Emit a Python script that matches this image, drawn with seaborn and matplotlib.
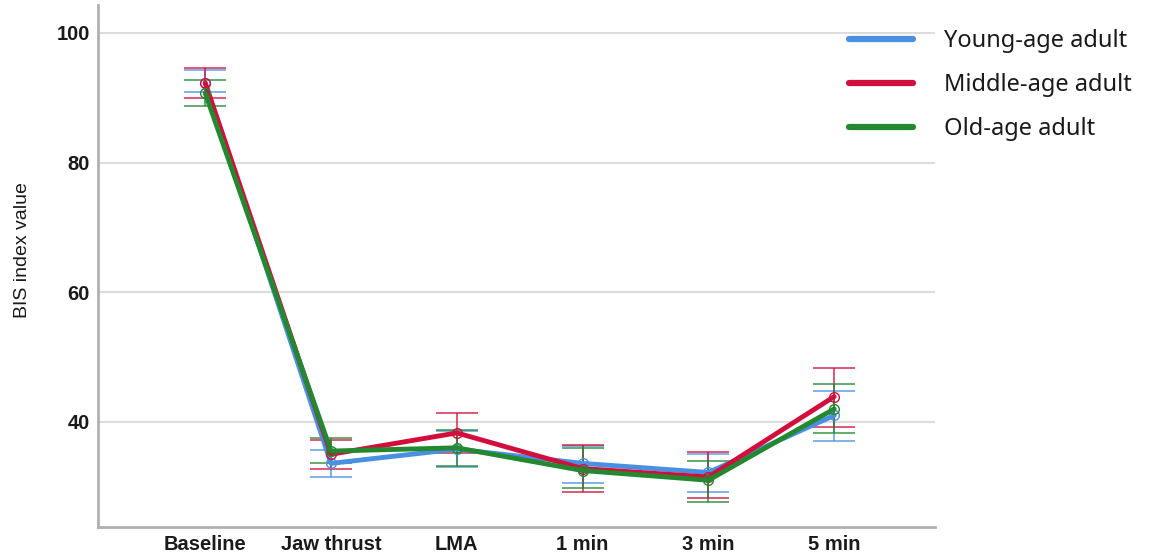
import numpy as np
import pandas as pd
import matplotlib
matplotlib.use("Agg")
import matplotlib.pyplot as plt
import seaborn as sns

# time points and groups
times = ["Baseline", "Jaw thrust", "LMA", "1 min", "3 min", "5 min"]
groups = ["Young-age adult", "Middle-age adult", "Old-age adult"]

# mean BIS values and 95% CI limits
young_mean = [92.2, 33.6, 35.8, 33.6, 32.2, 41.0]
young_lo = [90.9, 31.5, 33.0, 30.6, 29.2, 37.1]
young_hi = [94.2, 35.7, 38.6, 36.3, 35.0, 44.8]

middle_mean = [92.3, 35.0, 38.3, 32.8, 31.5, 43.9]
middle_lo = [90.0, 32.8, 35.2, 29.2, 28.3, 39.2]
middle_hi = [94.6, 37.2, 41.4, 36.5, 35.3, 48.3]

old_mean = [90.7, 35.5, 36.0, 32.5, 31.0, 42.0]
old_lo = [88.7, 33.6, 33.2, 29.8, 27.7, 38.3]
old_hi = [92.8, 37.5, 38.7, 36.0, 34.0, 45.9]

colors = ["#4a90e2", "#d20f3c", "#23882f"]

df = pd.DataFrame({
    "time": times * 3,
    "group": np.repeat(groups, len(times)),
    "bis": young_mean + middle_mean + old_mean,
    "lo": young_lo + middle_lo + old_lo,
    "hi": young_hi + middle_hi + old_hi,
})

sns.set_style("white")
fig = plt.figure(figsize=(11.7, 5.57), dpi=100)
ax = fig.add_axes([0.084, 0.054, 0.715, 0.937])

# error bars first
for g, c in zip(groups, colors):
    sub = df[df["group"] == g]
    xpos = np.arange(len(sub))
    ax.errorbar(xpos, sub["bis"], yerr=[sub["bis"] - sub["lo"], sub["hi"] - sub["bis"]],
                fmt="none", ecolor=c, elinewidth=1.4, capsize=15, capthick=1.4, alpha=0.7, zorder=2)

sns.lineplot(data=df, x="time", y="bis", hue="group", palette=colors, sort=False,
             linewidth=3.5, marker="o", markersize=7, ax=ax, zorder=3)
# open circle markers
for line in ax.get_lines():
    if line.get_marker() == "o":
        line.set_markerfacecolor("none")
        line.set_markeredgecolor(line.get_color())
        line.set_markeredgewidth(1.0)

ax.set_xlim(-0.85, 5.8)
ax.set_ylim(23.8, 104.3)
ax.set_yticks([40, 60, 80, 100])
ax.yaxis.grid(True, color="#dcdcdc", linewidth=1.5)
ax.set_axisbelow(True)
for s in ["top", "right"]:
    ax.spines[s].set_visible(False)
for s in ["left", "bottom"]:
    ax.spines[s].set_color("#b0b0b0")
    ax.spines[s].set_linewidth(2)
ax.tick_params(axis="both", length=0, pad=6)
for lab in ax.get_xticklabels() + ax.get_yticklabels():
    lab.set_fontfamily("Liberation Sans")
    lab.set_fontweight("bold")
    lab.set_fontsize(14.5)
    lab.set_color("#1a1a1a")
ax.set_xlabel("")
ax.set_ylabel("BIS index value", fontsize=14, fontfamily="Liberation Sans", color="#1a1a1a")
ax.yaxis.set_label_coords(-0.08, 0.53)

handles, labels = ax.get_legend_handles_labels()
for h in handles:
    h.set_marker("")
    h.set_linewidth(4.5)
fig.legend(handles, labels, loc="upper left", bbox_to_anchor=(0.726, 0.948), frameon=False,
           prop={"family": "Noto Sans", "size": 17}, handlelength=2.7, handletextpad=1.3,
           labelspacing=0.85, borderpad=0, borderaxespad=0, labelcolor="#1a1a1a")
ax.get_legend().remove()

fig.savefig("out.png", dpi=100)
